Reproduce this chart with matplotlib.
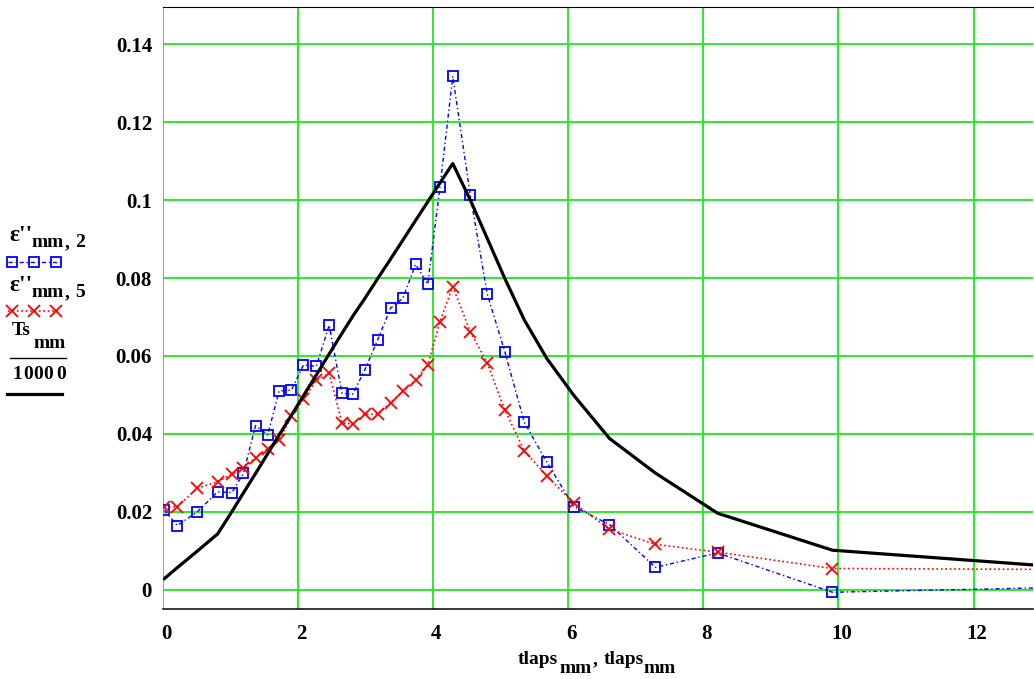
import matplotlib
matplotlib.use("Agg")
import matplotlib.pyplot as plt
from matplotlib.lines import Line2D
from matplotlib.transforms import ScaledTranslation

# ---- data ----
tlaps = [0.02, 0.21, 0.51, 0.81, 1.02, 1.19, 1.37, 1.55, 1.72, 1.90, 2.08, 2.27,
         2.46, 2.65, 2.81, 2.99, 3.18, 3.37, 3.55, 3.74, 3.92, 4.10, 4.29, 4.55,
         4.80, 5.06, 5.35, 5.68, 6.08, 6.61, 7.29, 8.21, 9.91, 14.0]
eps2 = [0.0204, 0.0164, 0.0200, 0.0251, 0.0249, 0.0298, 0.0421, 0.0397, 0.0510,
        0.0512, 0.0577, 0.0573, 0.0679, 0.0504, 0.0502, 0.0565, 0.0642, 0.0723,
        0.0748, 0.0835, 0.0784, 0.1033, 0.1318, 0.1012, 0.0759, 0.0611, 0.0429,
        0.0328, 0.0213, 0.0167, 0.0057, 0.0094, -0.0007, 0.0008]
eps5 = [0.0212, 0.0213, 0.0260, 0.0277, 0.0296, 0.0311, 0.0339, 0.0362, 0.0384,
        0.0445, 0.0489, 0.0537, 0.0555, 0.0428, 0.0425, 0.0450, 0.0450, 0.0480,
        0.0509, 0.0538, 0.0576, 0.0688, 0.0778, 0.0662, 0.0582, 0.0461, 0.0356,
        0.0292, 0.0222, 0.0155, 0.0116, 0.0096, 0.0054, 0.0051]
Ts = [28, 56, 99, 143, 200, 248, 298, 349, 397, 447, 498, 551, 605, 658, 702,
      748, 799, 849, 897, 948, 996, 1044, 1094, 1000, 902, 799, 692, 594, 499,
      388, 299, 196, 101, 49]
Ts_scale = 10000.0
xticks = [0, 2, 4, 6, 8, 10, 12]
yticks = [0, 0.02, 0.04, 0.06, 0.08, 0.1, 0.12, 0.14]
ytick_labels = ["0", "0.02", "0.04", "0.06", "0.08", "0.1", "0.12", "0.14"]

W, H = 1034, 679
FONT = "Liberation Serif"
FS = 14
TFS = 15

fig = plt.figure(figsize=(W / 100, H / 100), dpi=100)
ax = fig.add_axes([163 / W, 1 - 609 / H, 870 / W, 602 / H])

GREEN = "#1ee81e"
BLUE = "#0000ff"
RED = "#ff0000"
BLUE_DASH = (0, (3, 2, 1, 2))

ax.set_xlim(0, 12.88)
ax.set_ylim(-0.005, 0.1496)
ax.set_xticks(xticks)
ax.set_yticks(yticks)
ax.set_yticklabels(ytick_labels)
ax.grid(True, color=GREEN, linewidth=1.3)
ax.set_axisbelow(True)
ax.tick_params(length=0, labelsize=TFS)
ax.tick_params(axis="y", pad=7.9)
ax.tick_params(axis="x", pad=11.0)
for lab in ax.get_xticklabels() + ax.get_yticklabels():
    lab.set_fontfamily(FONT)
    lab.set_fontweight("bold")
for lab in ax.get_xticklabels():
    lab.set_transform(lab.get_transform() + ScaledTranslation(3 / 100, 0, fig.dpi_scale_trans))

ax.spines["left"].set_visible(False)
ax.spines["right"].set_visible(False)
ax.spines["top"].set_linewidth(0.8)
ax.spines["bottom"].set_linewidth(1.1)

ts_vals = [v / Ts_scale for v in Ts]
ax.plot(tlaps, eps2, color=BLUE, linestyle=BLUE_DASH, linewidth=1.0,
        marker="s", markersize=7.4, markerfacecolor="none",
        markeredgecolor=BLUE, markeredgewidth=1.3, zorder=3)
ax.plot(tlaps, eps5, color=RED, linestyle=":", linewidth=1.2,
        marker="x", markersize=8.5, markeredgewidth=1.3, zorder=4)
ax.plot(tlaps, ts_vals, color="black", linestyle="-", linewidth=2.3, zorder=5)


def ftext(x, y, s, size=FS, **kw):
    fig.text(x / W, 1 - y / H, s, fontsize=size, fontfamily=FONT,
             fontweight="bold", va="baseline", ha="left", **kw)


# x label
ftext(518, 664, "tlaps")
ftext(559, 673, "mm")
ftext(593, 664, ",")
ftext(604, 664, "tlaps")
ftext(644, 673, "mm")

# legend on the left
for yb, idx in ((0, "2"), (50, "5")):
    ftext(9, 241 + yb, "ε''", size=17)
    ftext(32, 247 + yb, "mm")
    ftext(65, 247 + yb, ",")
    ftext(75, 247 + yb, idx)
ftext(12, 335, "Ts")
ftext(33, 348, "mm")
for xd, d in zip((12.5, 23, 33, 43, 56), "10000"):
    ftext(xd, 379, d)


def fline(x0, x1, y, **kw):
    fig.add_artist(Line2D([x0 / W, x1 / W], [1 - y / H, 1 - y / H],
                          transform=fig.transFigure, **kw))


fline(8, 60, 261.7, color=BLUE, linestyle=BLUE_DASH, linewidth=1.0)
fig.add_artist(Line2D([12 / W, 34 / W, 56 / W], [1 - 261.7 / H] * 3,
                      transform=fig.transFigure, linestyle="none", marker="s",
                      markersize=7.4, markerfacecolor="none",
                      markeredgecolor=BLUE, markeredgewidth=1.3))
fline(8, 60, 310.7, color=RED, linestyle=":", linewidth=1.2)
fig.add_artist(Line2D([12 / W, 34 / W, 56 / W], [1 - 310.7 / H] * 3,
                      transform=fig.transFigure, linestyle="none", marker="x",
                      markersize=8.5, markeredgecolor=RED,
                      markeredgewidth=1.3))
fline(10, 66, 357.7, color="black", linewidth=1.0)
fline(7, 62, 394, color="black", linewidth=2.3)

fig.savefig("out.png", dpi=100)
